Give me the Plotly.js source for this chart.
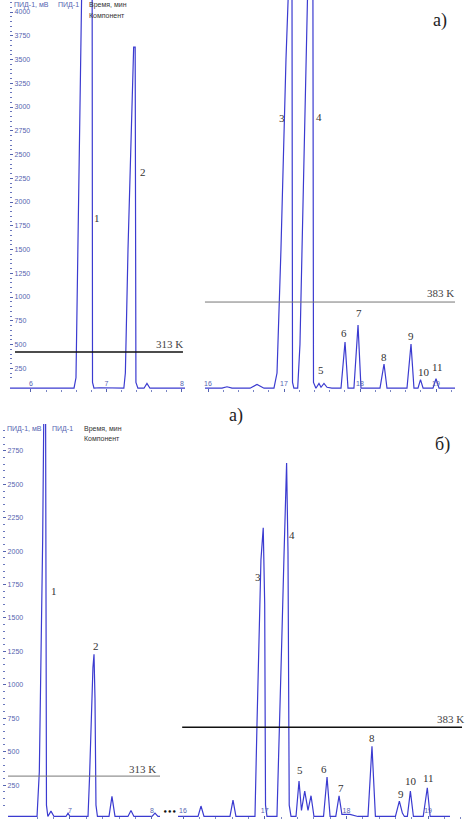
<!DOCTYPE html>
<html>
<head>
<meta charset="utf-8">
<script src="https://cdn.plot.ly/plotly-3.0.1.min.js"></script>
<style>html,body{margin:0;padding:0;background:#fff;}#chart{width:472px;height:819px;}</style>
</head>
<body>
<div id="chart"></div>
<script>
// ---------- Panel а) : time (min) and signal (mV) ----------
var aLeftTime  = [5.72,5.99,6.57,6.596,6.62,6.65,6.675,6.81,6.815,6.834,6.91,7.23,7.25,7.285,7.325,7.36,7.38,7.39,7.416,7.497,7.536,7.576,8.04];
var aLeftSig   = [40,40,40,150,1500,3000,4400,4400,100,40,45,40,200,1500,2800,3630,3630,100,40,40,90,40,40];

var aRightTime = [15.96,16.184,16.25,16.316,16.553,16.645,16.737,16.868,16.908,16.96,17.026,17.066,17.105,17.112,17.13,17.18,17.21,17.263,17.316,17.38,17.388,17.42,17.46,17.487,17.526,17.566,17.63,17.75,17.803,17.842,17.92,17.974,18.013,18.13,18.263,18.316,18.355,18.618,18.671,18.71,18.763,18.796,18.83,18.96,19.0,19.04,19.25];
var aRightSig  = [40,40,55,40,40,80,40,40,200,1500,3500,4400,4400,100,40,40,500,2500,4400,4400,100,40,90,50,90,50,40,40,526,40,40,705,40,40,40,295,40,40,505,40,40,130,40,40,140,40,40];

// ---------- Panel б) ----------
var bLeftTime  = [6.244,6.585,6.598,6.626,6.643,6.655,6.667,6.683,6.702,6.713,6.73,6.768,6.805,6.951,6.976,7.0,7.22,7.238,7.256,7.28,7.293,7.305,7.317,7.335,7.476,7.512,7.549,7.707,7.744,7.78,8.0,8.037,8.073,8.098];
var bLeftSig   = [15,15,15,350,965,1590,2090,3200,3200,100,15,55,15,15,40,15,15,300,700,1130,1228,900,100,15,15,165,15,15,60,15,15,40,15,15];

var bRightTime = [15.939,16.184,16.22,16.257,16.575,16.612,16.648,16.881,16.905,16.93,16.954,16.982,17.0,17.01,17.028,17.15,17.175,17.21,17.235,17.268,17.285,17.3,17.322,17.383,17.42,17.45,17.49,17.53,17.567,17.603,17.72,17.763,17.8,17.87,17.91,17.945,18.044,18.14,18.264,18.313,18.355,18.6,18.648,18.685,18.71,18.746,18.783,18.82,18.94,18.99,19.025,19.268];
var bRightSig  = [15,15,93,15,15,138,15,15,690,1436,1936,2175,1600,100,15,15,500,1354,1937,2660,2000,100,15,15,280,60,205,60,170,15,15,310,15,15,170,30,30,15,15,540,15,15,130,40,15,15,205,15,15,230,15,15];

// tick labels (minutes)
var aLeftTicks  = [6,7,8];
var aRightTicks = [16,17,18,19];
var bLeftTicks  = [7,8];
var bRightTicks = [16,17,18,19];

// peak numbers
var aPeakLabels = ["1","2","3","4","5","6","7","8","9","10","11"];
var aPeakTimes  = [6.874,7.483,16.974,17.46,17.487,17.79,17.987,18.316,18.671,18.842,19.026];
var aPeakVals   = [1832,2316,2884,2895,232,621,832,368,589,211,263];
var aPeakAxis   = ["x","x","x2","x2","x2","x2","x2","x2","x2","x2","x2"];

var bPeakLabels = ["1","2","3","4","5","6","7","8","9","10","11"];
var bPeakTimes  = [6.805,7.317,16.918,17.334,17.432,17.726,17.934,18.313,18.668,18.791,18.999];
var bPeakVals   = [1705,1287,1810,2123,362,369,228,601,183,280,302];
var bPeakAxis   = ["x3","x3","x4","x4","x4","x4","x4","x4","x4","x4","x4"];

// column temperatures
var tempLabels = ["313 K","383 K","313 K","383 K"];
var tempAxisX  = ["x","x2","x3","x4"];
var tempAxisY  = ["y","y","y2","y2"];
var tempStart  = [5.788,15.96,6.244,15.99];
var tempEnd    = [8.013,19.25,8.098,19.415];
var tempLevel  = [421,947,317,683];
var tempLabelT = [7.841,19.06,7.88,19.28];
var tempLabelV = [505,1042,370,743];
var tempColor  = ["#111","#777","#777","#111"];
var tempWidth  = [1.6,1,1,1.6];

// ---------------- build ----------------
var W = 472, H = 819;
function px(x){return x/W;}
function py(y){return 1 - y/H;}

var lineStyle = {color:'#3b3bd0', width:1.2};
var traces = [
  {x:aLeftTime, y:aLeftSig, xaxis:'x', yaxis:'y', mode:'lines', line:lineStyle, hoverinfo:'skip'},
  {x:aRightTime, y:aRightSig, xaxis:'x2', yaxis:'y', mode:'lines', line:lineStyle, hoverinfo:'skip'},
  {x:bLeftTime, y:bLeftSig, xaxis:'x3', yaxis:'y2', mode:'lines', line:lineStyle, hoverinfo:'skip'},
  {x:bRightTime, y:bRightSig, xaxis:'x4', yaxis:'y2', mode:'lines', line:lineStyle, hoverinfo:'skip'}
];

var tickFont = {family:'Liberation Sans Narrow, Arial Narrow, Liberation Sans, sans-serif', size:7, color:'#5564b0'};
function xAx(domain, range, ticks, anchor){
  return {domain:domain, range:range, anchor:anchor, tickvals:ticks, ticktext:ticks.map(String),
    ticklabelposition:'inside', ticks:'inside', ticklen:3, tickcolor:'#5564b0', tickfont:tickFont,
    showgrid:false, zeroline:false, showline:false,
    minor:{dtick:0.2, ticks:'inside', ticklen:2, tickcolor:'#7a86c4', showgrid:false}};
}
function yAx(domain, range, anchor, ticks){
  return {domain:domain, range:range, anchor:anchor, tickvals:ticks,
    ticklabelposition:'inside', ticks:'inside', ticklen:3, tickcolor:'#5564b0', tickfont:tickFont,
    showgrid:false, zeroline:false, showline:false,
    minor:{dtick:50, ticks:'inside', ticklen:1.5, tickcolor:'#6a76bc', showgrid:false}};
}

var aYTicks = [250,500,750,1000,1250,1500,1750,2000,2250,2500,2750,3000,3250,3500,3750,4000];
var bYTicks = [250,500,750,1000,1250,1500,1750,2000,2250,2500,2750];

var layout = {
  width:W, height:H, autosize:false,
  margin:{l:0,r:0,t:0,b:0}, paper_bgcolor:'#fff', plot_bgcolor:'rgba(0,0,0,0)',
  showlegend:false,
  xaxis:  xAx([px(10), px(185)], [5.722, 8.04], aLeftTicks, 'y'),
  xaxis2: xAx([px(199), px(456)], [16-9/76, 19.263], aRightTicks, 'y'),
  xaxis3: xAx([px(3), px(160)], [7-(67/82), 8.098], bLeftTicks, 'y2'),
  xaxis4: xAx([px(176), px(463)], [16-7/81.7, 19.427], bRightTicks, 'y2'),
  yaxis: yAx([py(392), 1], [0, 392/0.095], 'x', aYTicks),
  yaxis2: yAx([0, py(424)], [-4, (819.5-424)/0.134], 'x3', bYTicks),
  shapes: [],
  annotations: []
};

for (var i=0;i<tempLabels.length;i++){
  layout.shapes.push({type:'line', xref:tempAxisX[i], yref:tempAxisY[i],
    x0:tempStart[i], x1:tempEnd[i], y0:tempLevel[i], y1:tempLevel[i],
    line:{color:tempColor[i], width:tempWidth[i]}});
  layout.annotations.push({xref:tempAxisX[i], yref:tempAxisY[i], x:tempLabelT[i], y:tempLabelV[i],
    text:tempLabels[i], showarrow:false, xanchor:'center', yanchor:'middle',
    font:{family:'Liberation Serif, Times New Roman, serif', size:11, color:'#444'}});
}

function addPeaks(labels, times, vals, axes, yref){
  for (var i=0;i<labels.length;i++){
    layout.annotations.push({xref:axes[i], yref:yref, x:times[i], y:vals[i], text:labels[i],
      showarrow:false, xanchor:'center', yanchor:'middle',
      font:{family:'Liberation Serif, Times New Roman, serif', size:11, color:'#333'}});
  }
}
addPeaks(aPeakLabels, aPeakTimes, aPeakVals, aPeakAxis, 'y');
addPeaks(bPeakLabels, bPeakTimes, bPeakVals, bPeakAxis, 'y2');

var hdrFamily = 'Liberation Sans Narrow, Arial Narrow, Liberation Sans, sans-serif';
function hdr(text, x, y, color){
  layout.annotations.push({xref:'paper', yref:'paper', x:px(x), y:py(y), text:text, showarrow:false,
    xanchor:'left', yanchor:'middle', font:{family:hdrFamily, size:7, color:color}});
}
hdr('ПИД-1, мВ', 12, 5, '#5564b0');
hdr('ПИД-1', 56, 5, '#5564b0');
hdr('Время, мин', 87, 5, '#333');
hdr('Компонент', 87, 15, '#333');
hdr('ПИД-1, мВ', 5, 429, '#5564b0');
hdr('ПИД-1', 50, 429, '#5564b0');
hdr('Время, мин', 82, 429, '#333');
hdr('Компонент', 82, 438, '#333');

function big(text, x, y){
  layout.annotations.push({xref:'paper', yref:'paper', x:px(x), y:py(y), text:text, showarrow:false,
    xanchor:'center', yanchor:'middle', font:{family:'Liberation Serif, Times New Roman, serif', size:18, color:'#222'}});
}
big('а)', 440, 20);
big('а)', 236, 415);
big('б)', 442, 445);

layout.annotations.push({xref:'paper', yref:'paper', x:px(169), y:py(812), text:'<b>•••</b>', showarrow:false,
  xanchor:'center', yanchor:'middle', font:{family:'DejaVu Sans, sans-serif', size:7, color:'#111'}});

Plotly.newPlot('chart', traces, layout, {staticPlot:true, displayModeBar:false});
</script>
</body>
</html>
